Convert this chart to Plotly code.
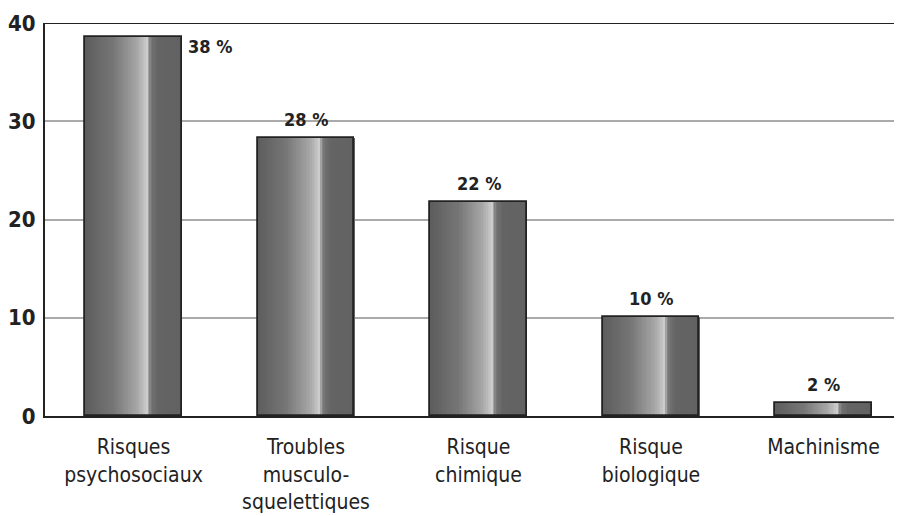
import plotly.graph_objects as go

categories = ["Risques<br>psychosociaux", "Troubles<br>musculo-<br>squelettiques",
              "Risque<br>chimique", "Risque<br>biologique", "Machinisme"]
values = [38.6, 28.3, 21.8, 10.1, 1.3]
value_labels = ["38 %", "28 %", "22 %", "10 %", "2 %"]
y_ticks = [0, 10, 20, 30, 40]

FONT = "Liberation Sans Narrow, DejaVu Sans Condensed, Arial Narrow, sans-serif"
BAR_W = 0.562
N = 60

def shade(t):
    # cylinder-like grey gradient
    stops = [(0.0, 92), (0.30, 118), (0.55, 168), (0.645, 205), (0.665, 140),
             (0.70, 112), (0.76, 100), (1.0, 98)]
    for (t0, c0), (t1, c1) in zip(stops, stops[1:]):
        if t0 <= t <= t1:
            c = c0 + (c1 - c0) * (t - t0) / (t1 - t0)
            c = int(round(c))
            return f"rgb({c},{c},{c})"
    c = stops[-1][1]
    return f"rgb({c},{c},{c})"

x = list(range(len(categories)))
fig = go.Figure()
sw = BAR_W / N
for i in range(N):
    t = (i + 0.5) / N
    fig.add_trace(go.Bar(
        x=x, y=values, width=[sw * 1.05] * len(x), offset=[-BAR_W / 2 + i * sw] * len(x),
        marker=dict(color=shade(t), line=dict(width=0)),
        hoverinfo="skip", showlegend=False))
fig.add_trace(go.Bar(
    x=x, y=values, width=[BAR_W] * len(x),
    marker=dict(color="rgba(0,0,0,0)", line=dict(color="#222222", width=1.8)),
    showlegend=False))

for i, (v, lab) in enumerate(zip(values, value_labels)):
    if i == 0:
        fig.add_annotation(x=i + BAR_W / 2, y=v, text=f"<b>{lab}</b>", showarrow=False,
                           xanchor="left", yanchor="top", xshift=4, yshift=3,
                           font=dict(family=FONT, size=18, color="#222222"))
    else:
        fig.add_annotation(x=i, y=v, text=f"<b>{lab}</b>", showarrow=False,
                           xanchor="center", yanchor="bottom", yshift=6,
                           font=dict(family=FONT, size=18, color="#222222"))

fig.add_shape(type="line", xref="paper", yref="y", x0=0, x1=1, y0=40, y1=40,
              line=dict(color="#222222", width=2))

fig.update_layout(
    width=894, height=508,
    margin=dict(l=37, r=0, t=15, b=100, autoexpand=False),
    paper_bgcolor="white", plot_bgcolor="white",
    barmode="overlay", bargap=0,
    font=dict(family=FONT, color="#222222"),
)
fig.update_xaxes(
    tickmode="array", tickvals=x, ticktext=categories, automargin=False,
    range=[-0.513, 4.455], showgrid=False, showline=True, linecolor="#222222", linewidth=2,
    ticks="", tickfont=dict(family=FONT, size=21, color="#222222"), zeroline=False,
    ticklabelstandoff=11,
)
fig.update_yaxes(
    range=[0, 40], tickvals=y_ticks, ticktext=[f"<b>{v}</b>" for v in y_ticks],
    automargin=False,
    showgrid=True, gridcolor="#aaaaaa", gridwidth=1.5,
    showline=True, linecolor="#222222", linewidth=2, ticks="", ticklabelstandoff=3,
    tickfont=dict(family=FONT, size=22, color="#222222"), zeroline=False,
)

fig.write_html("out.html")
